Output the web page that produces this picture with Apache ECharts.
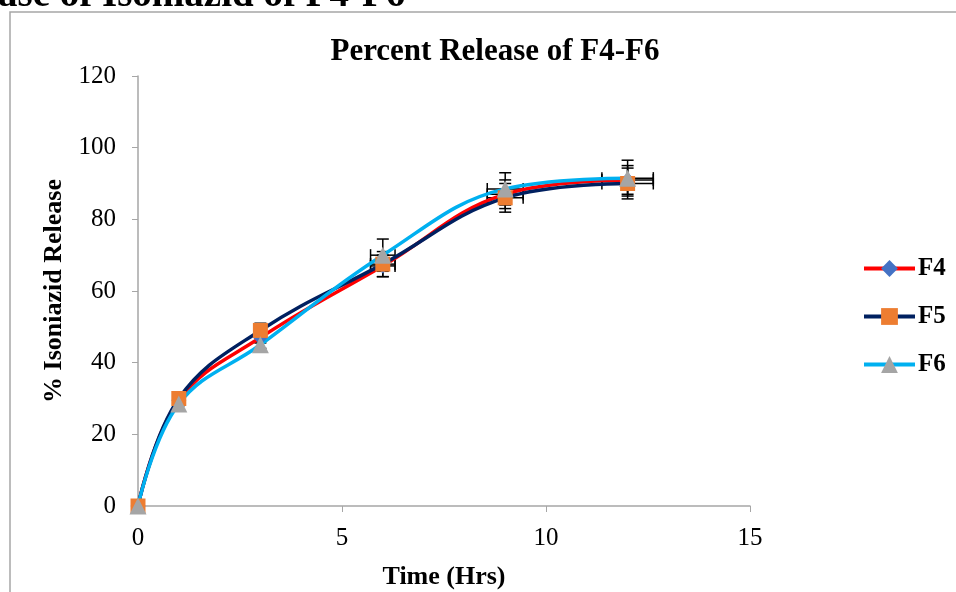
<!DOCTYPE html>
<html><head><meta charset="utf-8">
<script src="https://cdn.jsdelivr.net/npm/echarts@6/dist/echarts.min.js"></script>
<style>html,body{margin:0;padding:0;background:#fff}#c{width:956px;height:592px}</style>
</head><body><div id="c"></div>
<script>
const time = [0, 1, 3, 6, 9, 12];
const f4 = [0, 29.5, 47, 67, 87, 91];
const f5 = [0, 30, 49, 67.5, 86, 90];
const f6 = [0, 28.5, 45, 70, 88.5, 91.5];
const f4Err = [0, 0.5, 1.5, 3, 4, 4];
const f5Err = [0, 0.5, 2, 3.5, 4, 4.3];
const f6Err = [0, 0.5, 1, 4.5, 4.5, 5];
const xErr = [0, 0, 0, 0.3, 0.44, 0.63];
const xTicks = [0, 5, 10, 15];
const yTicks = [0, 20, 40, 60, 80, 100, 120];

const serif = 'Liberation Serif';
const chart = echarts.init(document.getElementById('c'));

function errSeries(ys, yerr) {
  const data = time.map((t, i) => [t, ys[i], yerr[i], xErr[i]]);
  return {
    type: 'custom', z: 1, silent: true,
    renderItem: function (params, api) {
      const x = api.value(0), y = api.value(1), ye = api.value(2), xe = api.value(3);
      const children = [];
      const st = { stroke: '#000', lineWidth: 1.5 };
      if (ye > 0) {
        const p1 = api.coord([x, y + ye]), p2 = api.coord([x, y - ye]);
        children.push({ type: 'line', shape: { x1: p1[0], y1: p1[1], x2: p2[0], y2: p2[1] }, style: st });
        children.push({ type: 'line', shape: { x1: p1[0] - 6, y1: p1[1], x2: p1[0] + 6, y2: p1[1] }, style: st });
        children.push({ type: 'line', shape: { x1: p2[0] - 6, y1: p2[1], x2: p2[0] + 6, y2: p2[1] }, style: st });
      }
      if (xe > 0) {
        const q1 = api.coord([x - xe, y]), q2 = api.coord([x + xe, y]);
        children.push({ type: 'line', shape: { x1: q1[0], y1: q1[1], x2: q2[0], y2: q2[1] }, style: st });
        children.push({ type: 'line', shape: { x1: q1[0], y1: q1[1] - 6, x2: q1[0], y2: q1[1] + 6 }, style: st });
        children.push({ type: 'line', shape: { x1: q2[0], y1: q2[1] - 6, x2: q2[0], y2: q2[1] + 6 }, style: st });
      }
      return { type: 'group', children: children };
    },
    data: data
  };
}

function lineSeries(name, ys, color, symbol, symColor, size) {
  return {
    name: name, type: 'line', smooth: 0.4, z: 3,
    data: time.map((t, i) => [t, ys[i]]),
    lineStyle: { color: color, width: 3.5 },
    itemStyle: { color: symColor },
    symbol: symbol, symbolSize: size, showSymbol: true
  };
}

chart.setOption({
  animation: false,
  title: {
    text: 'Percent Release of F4-F6', left: 490, textAlign: 'center', top: 31,
    textStyle: { fontFamily: serif, fontWeight: 'bold', fontSize: 31, color: '#000' }
  },
  graphic: [
    { type: 'rect', shape: { x: 10, y: 12, width: 1000, height: 700 }, style: { fill: 'none', stroke: '#a6a6a6', lineWidth: 1.5 } },
    { type: 'text', x: -2, y: 15, style: { text: 'ase of Isoniazid of F4-F6', font: 'bold 39px "Liberation Serif"', fill: '#000', textVerticalAlign: 'bottom' } }
  ],
  legend: {
    orient: 'vertical', left: 857, top: 251, itemWidth: 51, itemHeight: 21, itemGap: 23,
    lineStyle: { width: 4 },
    textStyle: { fontFamily: serif, fontWeight: 'bold', fontSize: 25, color: '#000', padding: [0, 0, 0, -2] },
    data: ['F4', 'F5', 'F6']
  },
  grid: { left: 138, top: 76, width: 612, height: 430, outerBoundsMode: 'none', containLabel: false },
  xAxis: {
    type: 'value', min: 0, max: 15, interval: 5,
    name: 'Time (Hrs)', nameLocation: 'middle', nameGap: 58,
    nameTextStyle: { fontFamily: serif, fontWeight: 'bold', fontSize: 26, color: '#000' },
    axisLine: { lineStyle: { color: '#a6a6a6', width: 1.5 } },
    axisTick: { show: true, length: 6, lineStyle: { color: '#a6a6a6' } },
    axisLabel: { fontFamily: serif, fontSize: 25, color: '#000', margin: 20,
      formatter: v => xTicks.includes(v) ? String(v) : '' },
    splitLine: { show: false }
  },
  yAxis: {
    type: 'value', min: 0, max: 120, interval: 20,
    name: '% Isoniazid Release', nameLocation: 'middle', nameGap: 70, nameRotate: 90,
    nameTextStyle: { fontFamily: serif, fontWeight: 'bold', fontSize: 26, color: '#000' },
    axisLine: { show: true, lineStyle: { color: '#a6a6a6', width: 1.5 } },
    axisTick: { show: true, length: 6, lineStyle: { color: '#a6a6a6' } },
    axisLabel: { fontFamily: serif, fontSize: 25, color: '#000', margin: 22,
      formatter: v => yTicks.includes(v) ? String(v) : '' },
    splitLine: { show: false }
  },
  series: [
    errSeries(f4, f4Err), errSeries(f5, f5Err), errSeries(f6, f6Err),
    lineSeries('F4', f4, '#ff0000', 'diamond', '#4472c4', 15),
    lineSeries('F5', f5, '#002060', 'rect', '#ed7d31', 15),
    lineSeries('F6', f6, '#00b0f0', 'triangle', '#a5a5a5', 17)
  ]
});
</script></body></html>
